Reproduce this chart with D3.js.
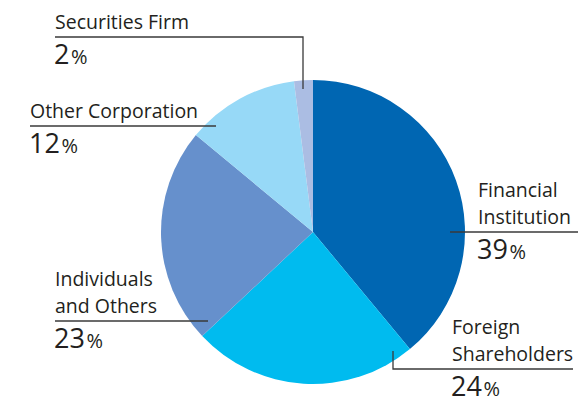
<!DOCTYPE html>
<html>
<head>
<meta charset="utf-8">
<script src="https://cdn.jsdelivr.net/npm/d3@7"></script>
<style>
  html, body { margin: 0; padding: 0; background: #fff; }
  svg { display: block; }
  text { font-family: "Open Sans", "Noto Sans", sans-serif; fill: #231f20; }
</style>
</head>
<body>
<svg id="chart" width="583" height="396"></svg>
<script>
// Shareholder composition, clockwise from 12 o'clock
const categories = ["Financial Institution", "Foreign Shareholders", "Individuals and Others", "Other Corporation", "Securities Firm"];
const shares = [39, 24, 23, 12, 2];
const colors = ["#0066b2", "#00bbef", "#6690cc", "#97d9f7", "#abbde3"];

// Label text lines per category
const labelLines = [
  ["Financial", "Institution"],
  ["Foreign", "Shareholders"],
  ["Individuals", "and Others"],
  ["Other Corporation"],
  ["Securities Firm"]
];

// Label layout: text left x, rule y, rule extent, optional elbow
const labelLayout = [
  { x: 478, ruleY: 232, x1: 450, x2: 578 },
  { x: 452, ruleY: 369, x1: 393, x2: 573, tickY: 351 },
  { x: 55,  ruleY: 321, x1: 55,  x2: 208 },
  { x: 30,  ruleY: 126, x1: 30,  x2: 216 },
  { x: 55,  ruleY: 37,  x1: 55,  x2: 303, dropY: 89 }
];

const svg = d3.select("#chart");
const cx = 313, cy = 232, r = 152;

const pie = d3.pie().sort(null).value(d => d)(shares);
const arc = d3.arc().innerRadius(0).outerRadius(r);

const g = svg.append("g").attr("transform", `translate(${cx},${cy})`);
g.selectAll("path")
  .data(pie)
  .join("path")
  .attr("d", arc)
  .attr("fill", (d, i) => colors[i]);

// Leader rules
const rules = svg.append("g")
  .attr("fill", "none")
  .attr("stroke", "#3a3a3a")
  .attr("stroke-width", 1.3);

labelLayout.forEach(L => {
  let pts;
  if (L.tickY !== undefined) {
    pts = [[L.x1, L.tickY], [L.x1, L.ruleY], [L.x2, L.ruleY]];
  } else if (L.dropY !== undefined) {
    pts = [[L.x1, L.ruleY], [L.x2, L.ruleY], [L.x2, L.dropY]];
  } else {
    pts = [[L.x1, L.ruleY], [L.x2, L.ruleY]];
  }
  rules.append("path").attr("d", d3.line()(pts));
});

// Category names and percentages
const labels = svg.append("g");
labelLayout.forEach((L, i) => {
  const lines = labelLines[i];
  lines.forEach((t, j) => {
    labels.append("text")
      .attr("x", L.x)
      .attr("y", L.ruleY - 8.5 - (lines.length - 1 - j) * 26.5)
      .attr("font-size", 19.5)
      .text(t);
  });
  const pct = labels.append("text")
    .attr("x", L.x - 1)
    .attr("y", L.ruleY + 26.5)
    .attr("font-size", 27);
  pct.append("tspan").text(shares[i]);
  pct.append("tspan").attr("font-size", 20).attr("dx", 1.5).text("%");
});
</script>
</body>
</html>
